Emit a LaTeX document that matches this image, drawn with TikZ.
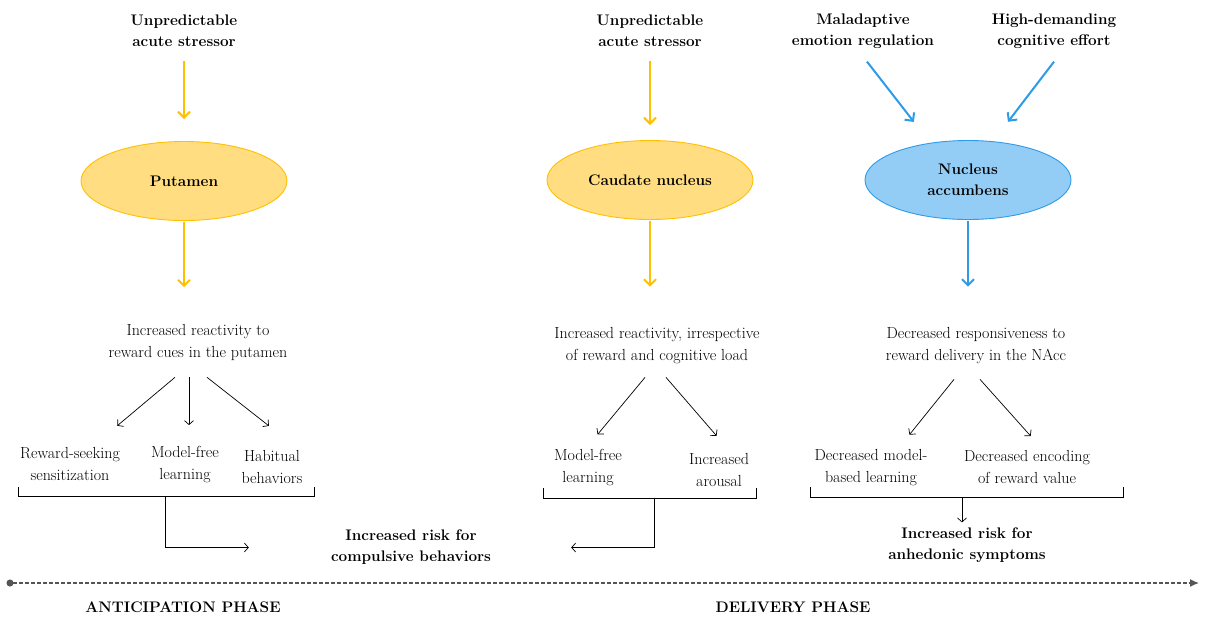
\documentclass[tikz,border=0pt]{standalone}
\usepackage{tikz}
\usetikzlibrary{arrows.meta}
\usetikzlibrary{shapes.geometric}
\definecolor{goldline}{HTML}{FFC000}
\definecolor{goldfill}{HTML}{FFDD80}
\definecolor{blueline}{HTML}{2E9BE6}
\definecolor{bluefill}{HTML}{93CDF5}
\definecolor{phasegray}{HTML}{555555}

\begin{document}
\begin{tikzpicture}[x=1pt,y=-1pt,
	txt/.style={align=center,inner sep=2pt,font=\fontsize{16}{22}\selectfont},
	hdr/.style={align=center,inner sep=2pt,font=\fontsize{15.3}{21}\selectfont\bfseries},
	region/.style={ellipse,draw,line width=0.9pt,minimum width=206pt,minimum height=79pt,
		align=center,font=\fontsize{15.3}{21}\selectfont\bfseries},
	goldarrow/.style={goldline,line width=2pt,-{Straight Barb[length=6pt,width=12pt]}},
	bluearrow/.style={blueline,line width=2pt,-{Straight Barb[length=6pt,width=12pt]}},
	thinarrow/.style={line width=0.7pt,-{Straight Barb[length=4pt,width=9pt]}}]
		\useasboundingbox (0,0) rectangle (1205,619);

		% anticipation: putamen
		\node[hdr] (S1) at (184,30.5) {Unpredictable\\acute stressor};
		\node[region,fill=goldfill,draw=goldline] (P) at (184,181) {Putamen};
		\node[txt] (R1) at (198,342.5) {Increased reactivity to\\reward cues in the putamen};
		\draw[goldarrow,shorten <=12pt,shorten >=22pt] (S1) -- (P);
		\draw[goldarrow,shorten <=1pt,shorten >=35pt] (P) -- (P |- R1.north);

		\node[txt] (RS) at (70,464.5) {Reward-seeking\\sensitization};
		\node[txt] (MF1) at (185,465) {Model-free\\learning};
		\node[txt] (HB) at (272,467.5) {Habitual\\behaviors};
		\draw[thinarrow,shorten >=31pt] ([xshift=-23pt,yshift=-14.5pt]R1.south) -- ([xshift=23.5pt]RS.north);
		\draw[thinarrow,shorten >=19.5pt] ([xshift=-9pt,yshift=-14.5pt]R1.south) -- ([xshift=4pt]MF1.north);
		\draw[thinarrow,shorten >=37pt] ([xshift=9pt,yshift=-14.5pt]R1.south) -- ([xshift=26pt]HB.north);

		\coordinate (BLa) at (18,487);
		\coordinate (BLb) at (314,487);
		\coordinate (BL) at (165,496);
		\draw (BLa) -- (BLa |- BL) -- (BLb |- BL) -- (BLb);

		\node[hdr] (Risk1) at (411,547.5) {Increased risk for\\compulsive behaviors};
		\draw[thinarrow,shorten >=80pt] (BL) |- (Risk1.west);

		% delivery: caudate
		\node[hdr] (S2) at (650,30.5) {Unpredictable\\acute stressor};
		\node[region,fill=goldfill,draw=goldline] (C) at (650,180) {Caudate nucleus};
		\node[txt] (R2) at (657,346) {Increased reactivity, irrespective\\of reward and cognitive load};
		\draw[goldarrow,shorten <=12pt,shorten >=15pt] (S2) -- (C);
		\draw[goldarrow,shorten <=1pt,shorten >=39pt] (C) -- (C |- R2.north);

		\node[txt] (MF2) at (588,468) {Model-free\\learning};
		\node[txt] (IA) at (719,470.5) {Increased\\arousal};
		\draw[thinarrow,shorten >=17pt] ([xshift=-12pt,yshift=-11pt]R2.south) -- ([xshift=-1.3pt]MF2.north);
		\draw[thinarrow,shorten >=21pt] ([xshift=9pt,yshift=-11pt]R2.south) -- ([xshift=11.3pt]IA.north);

		\coordinate (BMa) at (543,488);
		\coordinate (BMb) at (756,488);
		\coordinate (BM) at (654,498);
		\draw (BMa) -- (BMa |- BM) -- (BMb |- BM) -- (BMb);
		\draw[thinarrow,shorten >=78pt] (BM) |- (Risk1.east);

		% delivery: nucleus accumbens
		\node[hdr] (ER) at (863,31) {Maladaptive\\emotion regulation};
		\node[hdr] (HD) at (1054,31) {High-demanding\\cognitive effort};
		\node[region,fill=bluefill,draw=blueline] (N) at (968,180) {Nucleus\\accumbens};
		\node[txt] (R3) at (976,345.5) {Decreased responsiveness to\\reward delivery in the NAcc};
		\draw[bluearrow,shorten <=14pt,shorten >=23pt] ([xshift=-4.6pt]ER.south) -- ([xshift=-40pt]N.north);
		\draw[bluearrow,shorten <=14pt,shorten >=23pt] ([xshift=8.5pt]HD.south) -- ([xshift=26pt]N.north);
		\draw[bluearrow,shorten <=1pt,shorten >=38.5pt] (N) -- (N |- R3.north);

		\node[txt] (DM) at (871,467.5) {Decreased model-\\based learning};
		\node[txt] (DE) at (1027,467.5) {Decreased encoding\\of reward value};
		\draw[thinarrow,shorten >=16pt] ([xshift=-22pt,yshift=-13.5pt]R3.south) -- ([xshift=28.4pt]DM.north);
		\draw[thinarrow,shorten >=17pt] ([xshift=4pt,yshift=-13.5pt]R3.south) -- ([xshift=15pt]DE.north);

		\coordinate (BRa) at (810,487);
		\coordinate (BRb) at (1123,487);
		\coordinate (BR) at (962,497);
		\draw (BRa) -- (BRa |- BR) -- (BRb |- BR) -- (BRb);

		\node[hdr] (Risk2) at (967,545.5) {Increased risk for\\anhedonic symptoms};
		\draw[thinarrow,shorten >=3.5pt] (BR) -- (BR |- Risk2.north);

		% time line
		\coordinate (T0) at (10,583);
		\coordinate (T1) at (1199,583);
		\draw[phasegray,line width=1.3pt,dash pattern=on 4pt off 2pt,
			{Circle[length=7pt,sep=-3.5pt]}-{Latex[length=9pt,width=8pt]}] (T0) -- (T1);
		\node[hdr] (AP) at (183,607) {ANTICIPATION PHASE};
		\node[hdr] (DP) at (793,607) {DELIVERY PHASE};
\end{tikzpicture}
\end{document}
